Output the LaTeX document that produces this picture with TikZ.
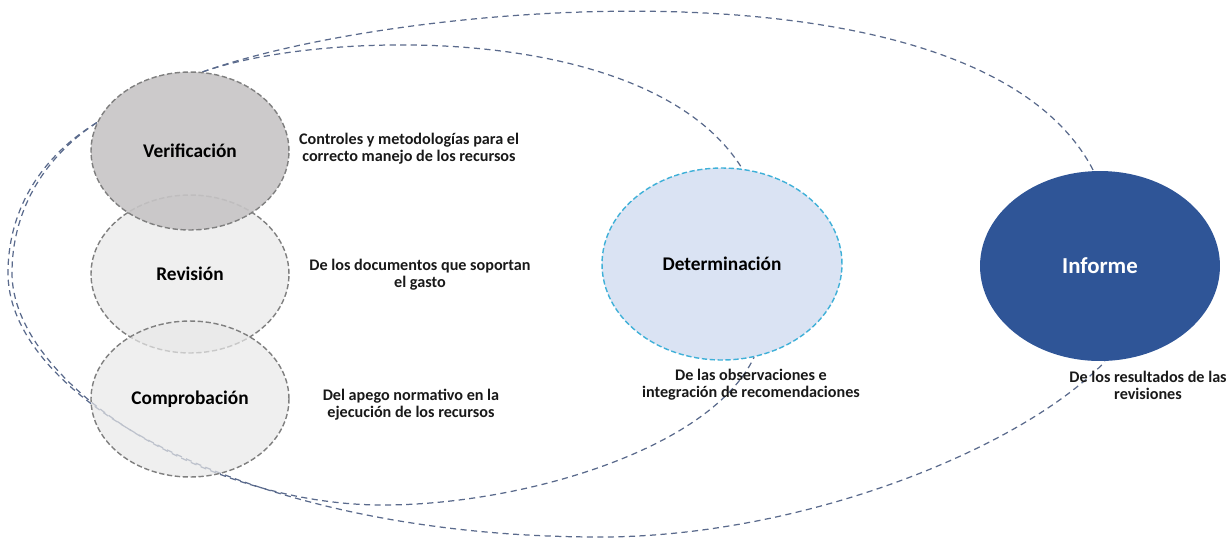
\documentclass[tikz,border=0pt]{standalone}
\usepackage{fontspec}
\setmainfont{Carlito}
\usetikzlibrary{shapes.geometric,backgrounds}
\definecolor{bordegris}{HTML}{7F7F7F}
\definecolor{grisverif}{HTML}{C6C4C5}
\definecolor{grisclaro}{HTML}{E8E8E8}
\definecolor{azulclaro}{HTML}{DAE3F3}
\definecolor{cianborde}{HTML}{3FB0D8}
\definecolor{azulinforme}{HTML}{2F5597}
\definecolor{lineacurva}{HTML}{5A6A8C}
\begin{document}
\begin{tikzpicture}
			[x=0.02cm,y=0.02cm,
			etapa/.style={ellipse,inner sep=0pt,draw=bordegris,line width=0.8pt,dash pattern=on 3pt off 1.5pt,font=\fontsize{11}{13}\selectfont\bfseries},
			desc/.style={align=center,text=black!90,font=\fontsize{9.2}{9.8}\selectfont\bfseries},
			curva/.style={draw=lineacurva,line width=0.7pt,dash pattern=on 3.5pt off 2.5pt}]
			\useasboundingbox(0,0)rectangle(1228,-539);
			\node[etapa,name=revis,minimum width=3.96cm,minimum height=3.16cm,fill=grisclaro,fill opacity=0.7,text opacity=1]at(190,-274){Revisión};
			\node[etapa,name=compr,minimum width=3.96cm,minimum height=3.12cm,fill=grisclaro,fill opacity=0.7,text opacity=1]at(190,-399){Comprobación};
			\node[etapa,name=verif,minimum width=3.96cm,minimum height=3.16cm,fill=grisverif,fill opacity=0.9,text opacity=1]at(190,-151){Verificación};
			\node[etapa,name=deter,minimum width=4.8cm,minimum height=3.84cm,fill=azulclaro,draw=cianborde]at(722,-264){Determinación};
			\node[etapa,name=inform,minimum width=4.8cm,minimum height=3.8cm,fill=azulinforme,draw=none,text=white,font=\fontsize{13}{15}\selectfont\bfseries]at(1100,-266){Informe};
			\node[desc,name=t1]at(409,-149){Controles y metodologías para el\\correcto manejo de los recursos};
			\node[desc,name=t2]at(420,-275){De los documentos que soportan\\el gasto};
			\node[desc,name=t3]at(411,-405){Del apego normativo en la\\ejecución de los recursos};
			\node[desc,name=t4]at(751,-385){De las observaciones e\\integración de recomendaciones};
			\node[desc,name=t5]at(1148,-385){De los resultados de las\\revisiones};
			% arcos punteados detras de las etapas
			\begin{scope}[on background layer]
			\draw[curva](verif.81)..controls(320,-30)and(650,-20)..(deter.78);
			\draw[curva](verif.81)..controls(400,-1)and(980,50)..(inform.94);
			\draw[curva](verif.163)..controls(40,-160)and(12,-215)..(12,-273)
				..controls(12,-380)and(200,-505)..(383,-505)
				..controls(520,-505)and(710,-450)..(deter.-71);
			\draw[curva](verif.163)..controls(36,-160)and(8,-215)..(8,-273)
				..controls(8,-400)and(250,-537)..(600,-537)
				..controls(800,-537)and(1020,-450)..(inform.-87);
			\end{scope}
		\end{tikzpicture}
\end{document}
